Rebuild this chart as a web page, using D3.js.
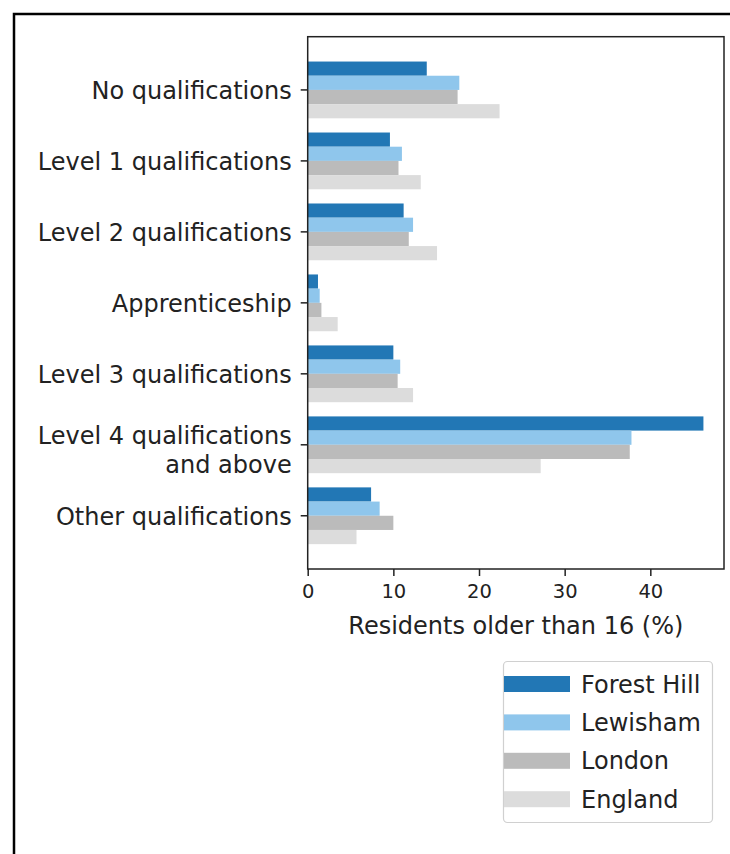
<!DOCTYPE html>
<html>
<head>
<meta charset="utf-8">
<script src="https://cdn.jsdelivr.net/npm/d3@7"></script>
<style>
  html, body { margin: 0; padding: 0; background: #fff; }
  svg { display: block; }
  text { font-family: "DejaVu Sans", sans-serif; fill: #222; }
</style>
</head>
<body>
<svg id="chart" width="730" height="854"></svg>
<script>
// ---- data ----
const categories = [
  "No qualifications",
  "Level 1 qualifications",
  "Level 2 qualifications",
  "Apprenticeship",
  "Level 3 qualifications",
  "Level 4 qualifications\nand above",
  "Other qualifications"
];
const seriesNames = ["Forest Hill", "Lewisham", "London", "England"];
const forestHill = [13.9, 9.6, 11.2, 1.2, 10.0, 46.2, 7.4];
const lewisham   = [17.7, 11.0, 12.3, 1.4, 10.8, 37.8, 8.4];
const london     = [17.5, 10.6, 11.8, 1.6, 10.5, 37.6, 10.0];
const england    = [22.4, 13.2, 15.1, 3.5, 12.3, 27.2, 5.7];
const xTicks = [0, 10, 20, 30, 40];
const xLabel = "Residents older than 16 (%)";

const seriesValues = [forestHill, lewisham, london, england];
const colors = ["#2277b5", "#8fc6ec", "#bbbbbb", "#dcdcdc"];

// ---- layout ----
const svg = d3.select("#chart");
const plot = { left: 307.7, right: 724, top: 36.7, bottom: 569 };

// outer frame
svg.append("rect")
  .attr("x", 14).attr("y", 14)
  .attr("width", 800).attr("height", 900)
  .attr("fill", "none").attr("stroke", "#000").attr("stroke-width", 2.5);

const x = d3.scaleLinear()
  .domain([0, d3.max(seriesValues.flat()) * 1.052])
  .range([plot.left, plot.right]);

const y = d3.scaleBand()
  .domain(categories)
  .range([plot.top, plot.bottom])
  .paddingInner(0.2)
  .paddingOuter(0.35);

const ySub = d3.scaleBand()
  .domain(seriesNames)
  .range([0, y.bandwidth()])
  .padding(0);

// bars
const groups = svg.append("g").selectAll("g")
  .data(categories)
  .join("g")
  .attr("transform", d => `translate(0,${y(d)})`);

groups.selectAll("rect")
  .data((c, i) => seriesNames.map((s, j) => ({ s, j, v: seriesValues[j][i] })))
  .join("rect")
  .attr("x", x(0))
  .attr("y", d => ySub(d.s))
  .attr("width", d => x(d.v) - x(0))
  .attr("height", ySub.bandwidth())
  .attr("fill", d => colors[d.j]);

// frame of plot
svg.append("rect")
  .attr("x", plot.left).attr("y", plot.top)
  .attr("width", plot.right - plot.left)
  .attr("height", plot.bottom - plot.top)
  .attr("fill", "none").attr("stroke", "#222").attr("stroke-width", 1.5);

// x axis
const xAxis = svg.append("g")
  .attr("transform", `translate(0,${plot.bottom})`)
  .call(d3.axisBottom(x).tickValues(xTicks).tickSize(7).tickPadding(8).tickFormat(d3.format("d")));
xAxis.select(".domain").remove();
xAxis.selectAll("line").attr("stroke", "#222").attr("stroke-width", 1.5);
xAxis.selectAll("text").style("font-size", "19.5px").style("font-family", "DejaVu Sans").attr("fill", "#222");

svg.append("text")
  .attr("x", (plot.left + plot.right) / 2)
  .attr("y", 634)
  .attr("text-anchor", "middle")
  .style("font-size", "24px")
  .text(xLabel);

// y axis
const yAxis = svg.append("g")
  .attr("transform", `translate(${plot.left},0)`)
  .call(d3.axisLeft(y).tickSize(7).tickPadding(8).tickFormat(""));
yAxis.select(".domain").remove();
yAxis.selectAll("line").attr("stroke", "#222").attr("stroke-width", 1.5);

categories.forEach(c => {
  const lines = c.split("\n");
  const cy = y(c) + y.bandwidth() / 2;
  const t = svg.append("text")
    .attr("text-anchor", "end")
    .style("font-size", "24px");
  if (lines.length === 1) {
    t.append("tspan").attr("x", plot.left - 16).attr("y", cy + 9).text(lines[0]);
  } else {
    lines.forEach((ln, k) => {
      t.append("tspan").attr("x", plot.left - 16).attr("y", cy - 1 + k * 29.5).text(ln);
    });
  }
});

// legend
const lg = svg.append("g");
lg.append("rect")
  .attr("x", 503.5).attr("y", 661.5)
  .attr("width", 209).attr("height", 161)
  .attr("rx", 4).attr("ry", 4)
  .attr("fill", "#fff").attr("stroke", "#d0d0d0").attr("stroke-width", 1.2);

seriesNames.forEach((s, i) => {
  const cy = 684 + i * 38.4;
  lg.append("rect")
    .attr("x", 504).attr("y", cy - 8)
    .attr("width", 66).attr("height", 16)
    .attr("fill", colors[i]);
  lg.append("text")
    .attr("x", 581).attr("y", cy + 8.5)
    .style("font-size", "24px")
    .text(s);
});
</script>
</body>
</html>
